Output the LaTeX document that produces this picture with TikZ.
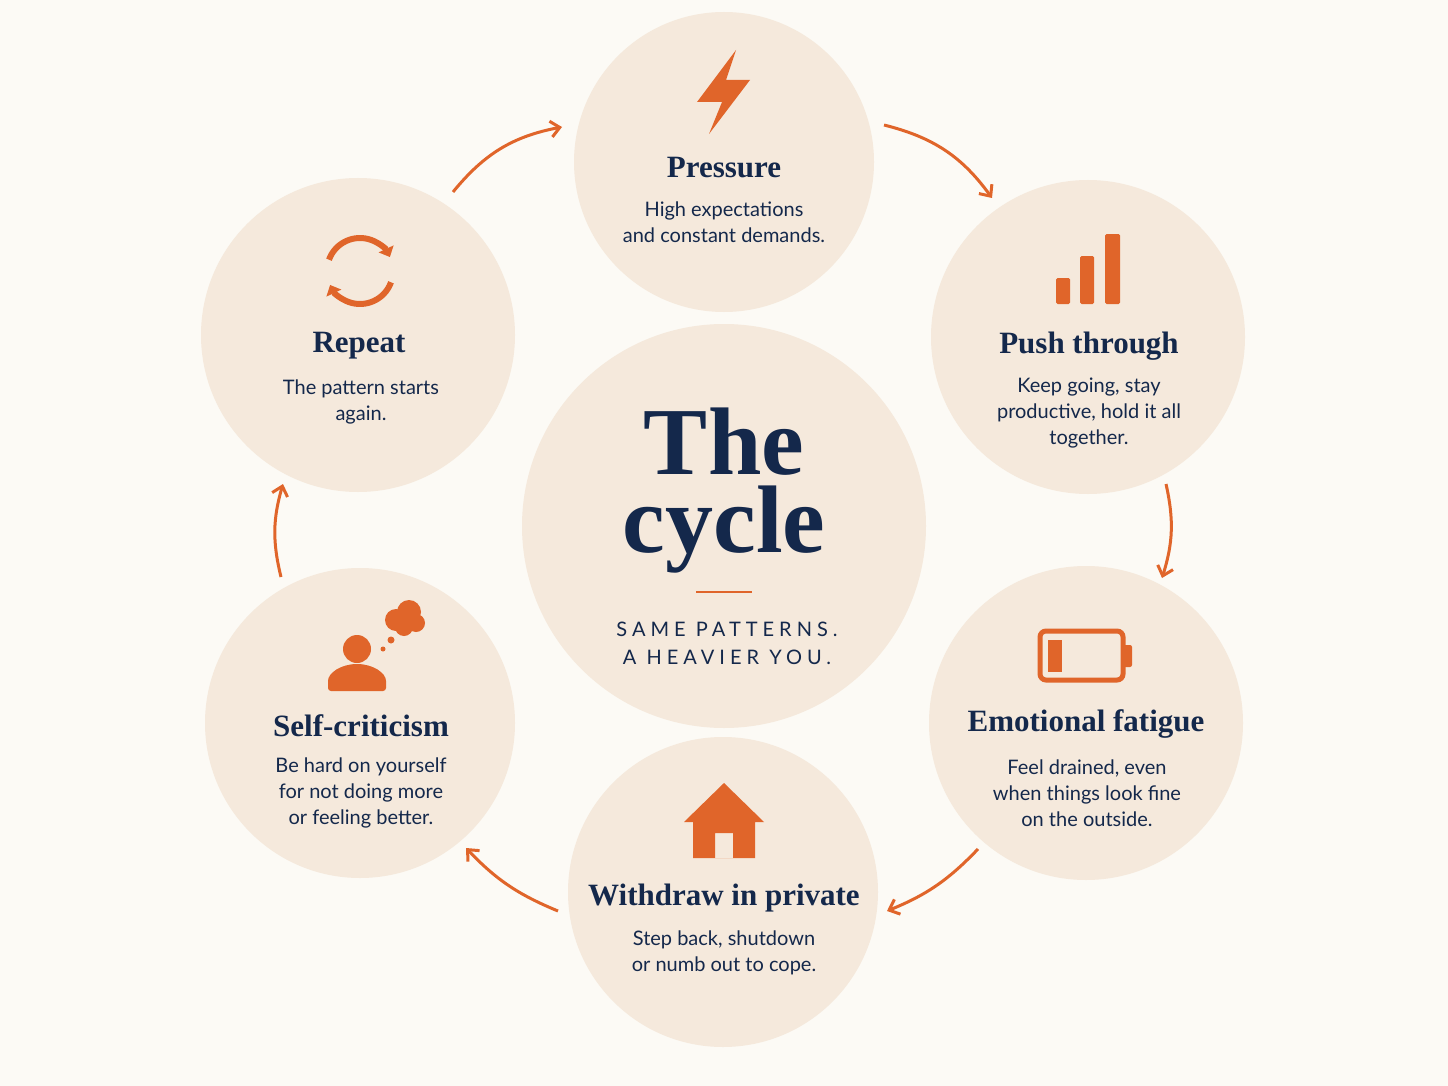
\documentclass[tikz,border=0pt]{standalone}
\usepackage{fontspec}
\setmainfont{Liberation Serif}
\newfontfamily\bodyf{Lato}
\usetikzlibrary{arrows.meta}
\definecolor{bg}{HTML}{FCFAF5}
\definecolor{disc}{HTML}{F5E9DC}
\definecolor{org}{HTML}{E0652A}
\definecolor{navy}{HTML}{14284B}
\begin{document}
\begin{tikzpicture}[x=1pt,y=-1pt,
  disc/.style={circle,fill=disc,minimum size=#1},
  head/.style={text=navy,font=\fontsize{31}{34}\selectfont\bfseries},
  body/.style={text=navy,font=\bodyf\fontsize{20}{26}\selectfont,align=center},
  cyc/.style={draw=org,line width=3pt,-{Straight Barb[length=9pt,width=16pt]}},
  big/.style={text=navy,font=\fontsize{96}{78}\selectfont\bfseries,anchor=base,inner sep=0pt,align=center},
  icon/.style={fill=org,draw=none}]
\fill[bg] (0,0) rectangle (1448,1086);
\useasboundingbox (0,0) rectangle (1448,1086);
% discs
\node[disc=300pt] (p) at (724,162) {};
\node[disc=314pt] (pt) at (1088,337) {};
\node[disc=314pt] (ef) at (1086,723) {};
\node[disc=310pt] (w) at (723,892) {};
\node[disc=310pt] (sc) at (360,723) {};
\node[disc=314pt] (r) at (358,335) {};
\node[disc=404pt] (c) at (724,526) {};
% arrows
\coordinate (a1) at (453,192); \coordinate (b1) at (562,127);
\coordinate (a2) at (884,125); \coordinate (b2) at (992,198);
\coordinate (a3) at (1166,484); \coordinate (b3) at (1162,578);
\coordinate (a4) at (978,849); \coordinate (b4) at (887,911);
\coordinate (a5) at (558,911); \coordinate (b5) at (466,848);
\coordinate (a6) at (281,577); \coordinate (b6) at (283,484);
\draw[cyc] (a1) to[bend left=20] (b1);
\draw[cyc] (a2) to[bend left=20] (b2);
\draw[cyc] (a3) to[bend left=15] (b3);
\draw[cyc] (a4) to[bend left=12] (b4);
\draw[cyc] (a5) to[bend left=12] (b5);
\draw[cyc] (a6) to[bend left=15] (b6);
% texts
\node[head] (ph) at (724,168) {Pressure};
\node[body] (pb) at (724,222) {High expectations\\and constant demands.};
\node[head] (pth) at (1089,346) {Push through};
\node[body] (ptb) at (1089,413) {Keep going, stay\\productive, hold it all\\together.};
\node[head] (efh) at (1086,724) {Emotional fatigue};
\node[body] (efb) at (1087,793) {Feel drained, even\\when things look fine\\on the outside.};
\node[head] (wh) at (724,898) {Withdraw in private};
\node[body] (wb) at (724,953) {Step back, shutdown\\or numb out to cope.};
\node[head] (sch) at (361,726) {Self-criticism};
\node[body] (scb) at (361,793) {Be hard on yourself\\for not doing more\\or feeling better.};
\node[head] (rh) at (359,346) {Repeat};
\node[body] (rb) at (361,402) {The pattern starts\\again.};
\node[big] (t) at (724,552) {The\\cycle};
\coordinate (l1) at (696,592); \coordinate (l2) at (752,592);
\draw[org,line width=2.5pt] (l1) -- (l2);
\node[text=navy,font=\bodyf\fontsize{20}{28}\selectfont\addfontfeatures{LetterSpace=25},align=center] (s) at (727,643) {SAME PATTERNS.\\A HEAVIER YOU.};
% icons
\fill[icon] (736,50) -- (697,102) -- (722,102) -- (709,134) -- (750,80) -- (726,80) -- cycle;
\fill[icon,rounded corners=1.5pt] (1056,278) rectangle (1070,304) (1080,256) rectangle (1094,304) (1105,234) rectangle (1120,304);
\draw[org,line width=5pt,rounded corners=6pt] (1040,631) rectangle (1123,680);
\fill[icon,rounded corners=2pt] (1123,645) rectangle (1132,667);
\fill[icon] (1048,640) rectangle (1062,672);
\fill[icon,even odd rule] (724,783) -- (684,822) -- (693,822) -- (693,858) -- (755,858) -- (755,822) -- (764,822) -- cycle (715,833) rectangle (733,858);
\fill[icon] (357,649) circle (14);
\fill[icon,rounded corners=3pt] (328,691) -- (328,684) arc (180:360:29 and 20) -- (386,691) -- cycle;
\fill[icon] (396,620) circle (11) (409,612) circle (12) (416,623) circle (9) (404,627) circle (9);
\fill[icon] (391,640) circle (3.5) (383,649) circle (2.5);
\draw[org,line width=6pt,-{Triangle[length=9pt,width=16pt]}] (360,271) ++(200:33) arc (200:335:33);
\draw[org,line width=6pt,-{Triangle[length=9pt,width=16pt]}] (360,271) ++(20:33) arc (20:155:33);
\end{tikzpicture}
\end{document}
